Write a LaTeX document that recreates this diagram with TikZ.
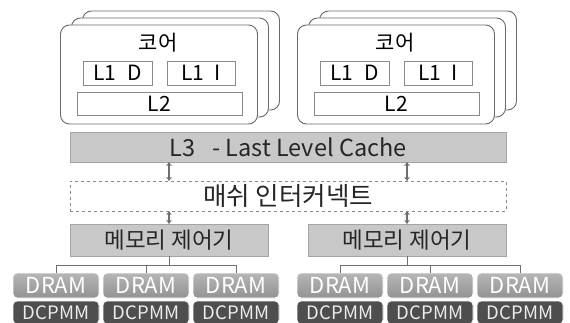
\documentclass[tikz,border=0pt]{standalone}
\usepackage{fontspec}
\setmainfont{Noto Sans CJK KR}
\usetikzlibrary{arrows.meta}

\definecolor{cardline}{HTML}{6A6A6A}
\definecolor{boxline}{HTML}{8A8A8A}
\definecolor{barfill}{HTML}{C8C8C8}
\definecolor{barline}{HTML}{A4A4A4}
\definecolor{linkgray}{HTML}{6E6E6E}
\definecolor{dramtop}{HTML}{B6B6B6}
\definecolor{drambot}{HTML}{929292}
\definecolor{pmmfill}{HTML}{4E4E4E}

\begin{document}
\begin{tikzpicture}[x=1pt,y=-1pt,
    card/.style={draw=cardline, fill=white, line width=0.9pt, rounded corners=9pt,
        minimum width=197pt, minimum height=99pt, inner sep=0pt, outer sep=0pt},
    cache/.style={draw=boxline, fill=white, line width=0.8pt, minimum height=24pt,
        inner sep=0pt, outer sep=0pt, font=\fontsize{21}{21}\selectfont},
    bar/.style={draw=barline, fill=barfill, line width=0.8pt, minimum width=436pt,
        minimum height=30pt, inner sep=0pt, outer sep=0pt, text=black!85,
        font=\fontsize{23.5}{23.5}\selectfont},
    ctrl/.style={bar, minimum width=198pt, minimum height=32pt,
        font=\fontsize{22.5}{22.5}\selectfont},
    dram/.style={draw=white, line width=0.8pt, top color=dramtop, bottom color=drambot,
        rounded corners=4pt, minimum width=86pt, minimum height=25pt, inner sep=0pt,
        outer sep=0pt, text=white, font=\fontsize{22}{22}\selectfont},
    pmm/.style={dram, fill=pmmfill, top color=pmmfill, bottom color=pmmfill,
        minimum height=23pt, text=white!92!black, font=\fontsize{18.5}{18.5}\selectfont},
    link/.style={draw=linkgray, line width=1.3pt,
        {Stealth[length=4pt,width=5.5pt]}-{Stealth[length=4pt,width=5.5pt]}},
    tree/.style={draw=linkgray, line width=0.8pt}
]

    % keep the page at the reference size
    \path[use as bounding box, clip] (0,0) rectangle (570,322);

    % Two core stacks, each three cards deep
    \foreach \i/\dx in {1/0, 2/237} {
        \node[card] (Back\i) at (181+\dx,60.5) {};
        \node[card] (Mid\i) at (170+\dx,67.5) {};
        \node[card] (Core\i) at (159+\dx,74.5) {};
        \node[font=\fontsize{21}{21}\selectfont] (Name\i) at (158+\dx,43) {코어};
        \node[cache, minimum width=69pt] (LD\i) at (117.5+\dx,73) {L1\,\,\,D};
        \node[cache, minimum width=68pt] (LI\i) at (201+\dx,73) {L1\,\,\,I};
        \node[cache, minimum width=165pt, minimum height=23pt] (LL\i) at (159.5+\dx,103.5) {L2};
    }

    % Shared cache and the mesh
    \node[bar] (L3) at (288,147) {L3\,\,\, - Last Level Cache};
    \node[bar, fill=white, draw=boxline, dashed, line width=0.6pt,
        font=\fontsize{25.5}{25.5}\selectfont] (Mesh) at (288,196) {매쉬 인터커넥트};

    % Memory controllers
    \node[ctrl] (MC1) at (169,240) {메모리 제어기};
    \node[ctrl] (MC2) at (407,240) {메모리 제어기};

    % Links between the layers
    \foreach \m in {MC1, MC2} {
        \draw[link] (\m.north |- L3.south) -- (\m.north |- Mesh.north);
        \draw[link] (\m.north |- Mesh.south) -- (\m.north);
    }

    % DRAM and DCPMM modules under each controller
    \foreach \m/\x in {1/56, 2/340} {
        \foreach \k in {1,2,3} {
            \node[dram] (D\m\k) at ({\x+(\k-1)*90},285.5) {DRAM};
            \node[pmm] (P\m\k) at ({\x+(\k-1)*90},312.5) {DCPMM};
            \draw[tree] (MC\m.south) -- ++(0,9) -| (D\m\k.north);
        }
    }

\end{tikzpicture}
\end{document}
